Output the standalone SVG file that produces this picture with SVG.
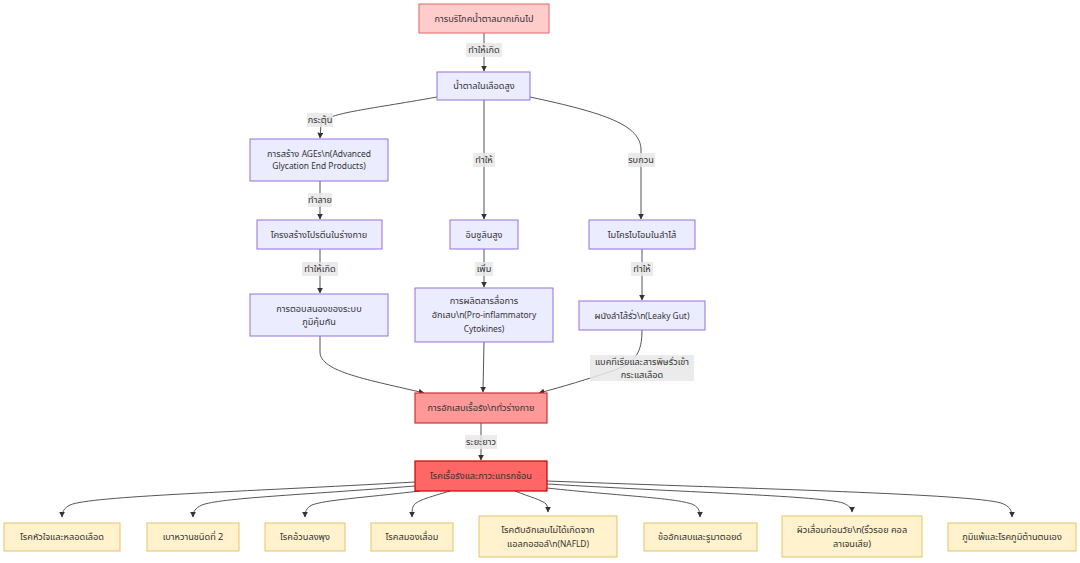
<svg xmlns="http://www.w3.org/2000/svg" width="1080" height="563" viewBox="0 0 1080 563">
<defs>
<marker id="arr" viewBox="0 0 10 10" refX="9" refY="5" markerWidth="6" markerHeight="6" orient="auto" markerUnits="userSpaceOnUse">
<path d="M0,0 L10,5 L0,10 z" fill="#333"/>
</marker>
<style>
text{font-family:"Noto Sans Thai","Noto Sans","Liberation Sans",sans-serif;font-size:9.2px;fill:#333;text-anchor:middle;dominant-baseline:central}
.lt{font-size:8.4px}
.n rect{fill:#ececff;stroke:#9370db;stroke-width:1}
.r1 rect{fill:#ffcccc;stroke:#e06666;stroke-width:1}
.r2 rect{fill:#ff9999;stroke:#cc3333;stroke-width:1.2}
.r3 rect{fill:#ff6666;stroke:#cc0000;stroke-width:1.2}
.y rect{fill:#fff2cc;stroke:#e6c36b;stroke-width:1}
.e path{fill:none;stroke:#555;stroke-width:1;marker-end:url(#arr)}
.l rect{fill:#e8e8e8;fill-opacity:0.85;stroke:none}
</style>
</defs>
<rect width="1080" height="563" fill="#ffffff"/>
<g id="connectors" class="e">
<path d="M484,33 L484,71"/>
<path d="M437,97 C365,110 326,113 321,124 L320,138"/>
<path d="M484,100 L484,219"/>
<path d="M530,97 C605,113 641,125 641,150 L641,219"/>
<path d="M320,181 L320,219"/>
<path d="M320,249 L320,293"/>
<path d="M484,249 L484,287"/>
<path d="M642,249 L642,300"/>
<path d="M320,336 L320,352 C320,372 370,380 424,393"/>
<path d="M484,342 L483,392"/>
<path d="M642,330 C642,352 636,362 615,370 C585,380 565,386 539,393"/>
<path d="M481,423 L481,460"/>
<path d="M415,482 C240,492 90,496 70,505 C64,508 62,512 62,517"/>
<path d="M415,486 C300,495 220,498 202,505 C195,508 193,512 193,517"/>
<path d="M420,491 C360,498 325,500 312,505 C306,508 305,512 305,517"/>
<path d="M450,491 C430,497 418,500 414,505 C412,508 412,511 412,517"/>
<path d="M515,491 C530,497 542,500 546,504 C548,507 548,509 548,512"/>
<path d="M547,488 C620,496 680,498 694,505 C699,508 700,512 700,517"/>
<path d="M547,484 C700,493 820,496 843,503 C850,506 852,509 852,512"/>
<path d="M547,481 C760,489 970,494 1001,503 C1010,506 1012,511 1012,517"/>
</g>
<g id="edge-labels">
<g class="l"><rect x="466" y="43" width="36" height="14"/><text x="484" y="50">ทำให้เกิด</text></g>
<g class="l"><rect x="307" y="113" width="26" height="14"/><text x="320" y="120">กระตุ้น</text></g>
<g class="l"><rect x="473" y="153" width="22" height="14"/><text x="484" y="160">ทำให้</text></g>
<g class="l"><rect x="628" y="153" width="27" height="14"/><text x="641" y="160">รบกวน</text></g>
<g class="l"><rect x="308" y="193" width="24" height="14"/><text x="320" y="200">ทำลาย</text></g>
<g class="l"><rect x="302" y="262" width="36" height="14"/><text x="320" y="269">ทำให้เกิด</text></g>
<g class="l"><rect x="475" y="262" width="18" height="14"/><text x="484" y="269">เพิ่ม</text></g>
<g class="l"><rect x="631" y="262" width="22" height="14"/><text x="642" y="269">ทำให้</text></g>
<g class="l"><rect x="590" y="355" width="104" height="26"/><text x="642" y="362">แบคทีเรียและสารพิษรั่วเข้า</text><text x="642" y="375">กระแสเลือด</text></g>
<g class="l"><rect x="465" y="435" width="32" height="14"/><text x="481" y="442">ระยะยาว</text></g>
</g>
<g id="n1" class="r1"><rect x="419" y="4" width="130" height="29"/><text x="484" y="18.5">การบริโภคน้ำตาลมากเกินไป</text></g>
<g id="n2" class="n"><rect x="437" y="72" width="93" height="28"/><text x="484" y="86">น้ำตาลในเลือดสูง</text></g>
<g id="n3" class="n"><rect x="250" y="139" width="138" height="42"/><text x="319" y="153.5">การสร้าง <tspan class="lt">AGEs\n(Advanced</tspan></text><text x="319" y="166.5" class="lt">Glycation End Products)</text></g>
<g id="n4" class="n"><rect x="257" y="220" width="125" height="29"/><text x="319" y="234.5">โครงสร้างโปรตีนในร่างกาย</text></g>
<g id="n5" class="n"><rect x="450" y="220" width="68" height="29"/><text x="484" y="234.5">อินซูลินสูง</text></g>
<g id="n6" class="n"><rect x="589" y="220" width="106" height="29"/><text x="642" y="234.5">ไมโครไบโอมในลำไส้</text></g>
<g id="n7" class="n"><rect x="250" y="294" width="138" height="42"/><text x="319" y="308.5">การตอบสนองของระบบ</text><text x="319" y="321.5">ภูมิคุ้มกัน</text></g>
<g id="n8" class="n"><rect x="415" y="288" width="138" height="54"/><text x="484" y="301">การผลิตสารสื่อการ</text><text x="484" y="315">อักเสบ<tspan class="lt">\n(Pro-inflammatory</tspan></text><text x="484" y="329" class="lt">Cytokines)</text></g>
<g id="n9" class="n"><rect x="579" y="301" width="126" height="29"/><text x="642" y="315.5">ผนังลำไส้รั่ว<tspan class="lt">\n(Leaky Gut)</tspan></text></g>
<g id="n10" class="r2"><rect x="415" y="393" width="132" height="30"/><text x="481" y="408">การอักเสบเรื้อรัง\nทั่วร่างกาย</text></g>
<g id="n11" class="r3"><rect x="415" y="461" width="132" height="30"/><text x="481" y="476">โรคเรื้อรังและภาวะแทรกซ้อน</text></g>
<g id="b1" class="y"><rect x="4" y="523" width="116" height="28"/><text x="62" y="537">โรคหัวใจและหลอดเลือด</text></g>
<g id="b2" class="y"><rect x="147" y="523" width="92" height="28"/><text x="193" y="537">เบาหวานชนิดที่ 2</text></g>
<g id="b3" class="y"><rect x="265" y="523" width="80" height="28"/><text x="305" y="537">โรคอ้วนลงพุง</text></g>
<g id="b4" class="y"><rect x="371" y="523" width="82" height="28"/><text x="412" y="537">โรคสมองเสื่อม</text></g>
<g id="b5" class="y"><rect x="479" y="516" width="138" height="41"/><text x="548" y="530">โรคตับอักเสบไม่ได้เกิดจาก</text><text x="548" y="544">แอลกอฮอล์<tspan class="lt">\n(NAFLD)</tspan></text></g>
<g id="b6" class="y"><rect x="644" y="523" width="113" height="28"/><text x="700" y="537">ข้ออักเสบและรูมาตอยด์</text></g>
<g id="b7" class="y"><rect x="782" y="516" width="140" height="41"/><text x="852" y="530">ผิวเสื่อมก่อนวัย\n(ริ้วรอย คอล</text><text x="852" y="544">ลาเจนเสีย)</text></g>
<g id="b8" class="y"><rect x="948" y="523" width="128" height="28"/><text x="1012" y="537">ภูมิแพ้และโรคภูมิต้านตนเอง</text></g>
</svg>
